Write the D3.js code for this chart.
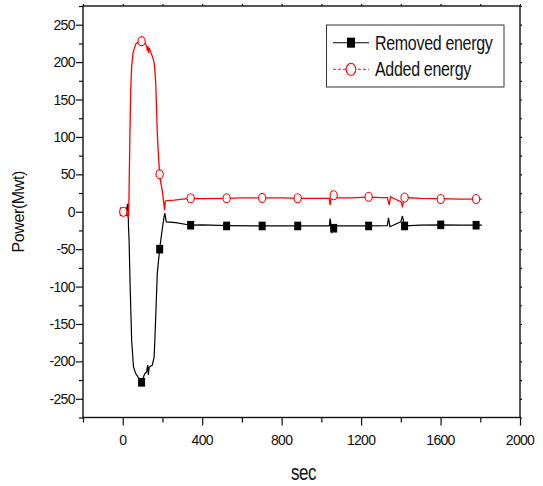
<!DOCTYPE html>
<html>
<head>
<meta charset="utf-8">
<script src="https://cdn.jsdelivr.net/npm/d3@7"></script>
<style>
  body { margin: 0; background: #fff; }
  text { font-family: "Liberation Sans", Arial, sans-serif; fill: #111; }
</style>
</head>
<body>
<div id="wrapper"></div>
<script>

// 1. Data
const seriesNames = ["Removed energy", "Added energy"]

const removedTime  = [0, 20, 24, 27, 29, 32, 37, 45, 54, 65, 82, 95, 110, 120, 126, 129, 133, 149, 158, 162, 166, 174, 186, 196, 208, 212, 219, 267, 342, 400, 523, 702, 881, 1040, 1044, 1054, 1062, 1075, 1238, 1332, 1338, 1345, 1370, 1400, 1408, 1419, 1500, 1601, 1700, 1779, 1808]
const removedPower = [0, 0, 10, 10, -20, -38, -96, -172, -207, -216, -223, -228, -217, -214, -205, -218, -208, -205, -194, -170, -141, -82, -50, -29, -7, -2, -13.5, -14.5, -18, -17.5, -18.5, -19, -19, -19, -9, -27, -22, -19, -19, -18.5, -8, -20, -17, -13.5, -5.7, -19, -18, -17.5, -18, -18, -18]

const addedTime  = [0, 20, 28, 30, 32, 36, 40, 45, 52, 65, 80, 95, 110, 120, 124, 127, 130, 133, 140, 150, 158, 163, 166, 170, 174, 180, 186, 192, 199, 205, 211, 214, 220, 260, 300, 342, 400, 523, 600, 702, 800, 881, 950, 1040, 1044, 1054, 1062, 1070, 1150, 1238, 1300, 1332, 1342, 1348, 1370, 1400, 1408, 1419, 1500, 1601, 1700, 1779, 1808]
const addedPower = [0, 0, -8, -5, 30, 100, 160, 195, 212, 224, 227, 229, 226, 222, 215, 221, 212, 219, 214, 207, 200, 185, 172, 140, 105, 75, 50, 38, 29, 15, 2, 14, 15, 15.5, 17, 18, 17.5, 18, 18.5, 18.5, 18.5, 18, 18, 18, 9, 27, 22, 18.5, 18.5, 19.5, 19, 19, 9, 20, 17, 13.5, 7.5, 19, 18, 17.5, 17, 17, 17]

const markerTime    = [3, 95, 186, 342, 523, 702, 881, 1062, 1238, 1419, 1601, 1779]
const removedMarker = [0, -228, -50, -18, -19, -19, -19, -22, -19, -19, -17.5, -18]
const addedMarker   = [0, 228, 50, 18, 18, 18.5, 18, 22, 20, 19, 17, 17]

const xMajorTicks = [0, 400, 800, 1200, 1600, 2000]
const xMinorTicks = [-200, 200, 600, 1000, 1400, 1800]
const yMajorTicks = [-250, -200, -150, -100, -50, 0, 50, 100, 150, 200, 250]
const yMinorTicks = [-275, -225, -175, -125, -75, -25, 25, 75, 125, 175, 225, 275]

// 2. Dimensions
let dimensions = {
  width: 543,
  height: 486,
  margin: { top: 6, right: 23, bottom: 68.5, left: 83 },
}
dimensions.boundedWidth = dimensions.width - dimensions.margin.left - dimensions.margin.right
dimensions.boundedHeight = dimensions.height - dimensions.margin.top - dimensions.margin.bottom

const wrapper = d3.select("#wrapper")
  .append("svg")
  .attr("width", dimensions.width)
  .attr("height", dimensions.height)

const bounds = wrapper.append("g")
  .attr("transform", `translate(${dimensions.margin.left},${dimensions.margin.top})`)

// 3. Scales
const xScale = d3.scaleLinear().domain([-200, 2000]).range([0, dimensions.boundedWidth])
const yScale = d3.scaleLinear().domain([-275, 275]).range([dimensions.boundedHeight, 0])

// 4. Axes
function styleAxis(g) {
  g.select(".domain").remove()
  g.selectAll(".tick line").attr("stroke", "#111").attr("stroke-width", 1.2)
}

bounds.append("g").attr("transform", `translate(0,${dimensions.boundedHeight})`)
  .call(d3.axisBottom(xScale).tickValues(xMajorTicks).tickSize(8).tickFormat("")).call(styleAxis)
bounds.append("g").attr("transform", `translate(0,${dimensions.boundedHeight})`)
  .call(d3.axisBottom(xScale).tickValues(xMinorTicks).tickSize(5).tickFormat("")).call(styleAxis)
bounds.append("g")
  .call(d3.axisLeft(yScale).tickValues(yMajorTicks).tickSize(7).tickFormat("")).call(styleAxis)
bounds.append("g")
  .call(d3.axisLeft(yScale).tickValues(yMinorTicks).tickSize(4).tickFormat("")).call(styleAxis)
// mirrored ticks on top and right
bounds.append("g")
  .call(d3.axisTop(xScale).tickValues(xMajorTicks.concat(xMinorTicks)).tickSize(2).tickFormat("")).call(styleAxis)
bounds.append("g").attr("transform", `translate(${dimensions.boundedWidth},0)`)
  .call(d3.axisRight(yScale).tickValues(yMajorTicks.concat(yMinorTicks)).tickSize(2).tickFormat("")).call(styleAxis)

// frame
bounds.append("rect")
  .attr("width", dimensions.boundedWidth)
  .attr("height", dimensions.boundedHeight)
  .attr("fill", "none")
  .attr("stroke", "#111")
  .attr("stroke-width", 1.4)

// tick labels
bounds.append("g").selectAll("text")
  .data(xMajorTicks)
  .join("text")
  .attr("x", d => xScale(d))
  .attr("y", dimensions.boundedHeight + 27.5)
  .attr("text-anchor", "middle")
  .style("font-size", "14px")
  .style("letter-spacing", "-0.7px")
  .text(d => d)

bounds.append("g").selectAll("text")
  .data(yMajorTicks)
  .join("text")
  .attr("x", -8)
  .attr("y", d => yScale(d) + 5)
  .attr("text-anchor", "end")
  .style("font-size", "14px")
  .style("letter-spacing", "-0.6px")
  .text(d => d)

// axis titles
wrapper.append("text")
  .attr("transform", `translate(${dimensions.margin.left + dimensions.boundedWidth / 2 + 2},480) scale(1,1.25)`)
  .attr("text-anchor", "middle")
  .style("font-size", "17px")
  .style("letter-spacing", "-0.4px")
  .text("sec")

wrapper.append("text")
  .attr("transform", `translate(24,${dimensions.margin.top + dimensions.boundedHeight / 2}) rotate(-90)`)
  .attr("text-anchor", "middle")
  .style("font-size", "16px")
  .style("letter-spacing", "-0.4px")
  .text("Power(Mwt)")

// 5. Lines
const lineGenerator = d3.line()
  .x(d => xScale(d[0]))
  .y(d => yScale(d[1]))

const removedData = removedTime.map((t, i) => [t, removedPower[i]])
const addedData = addedTime.map((t, i) => [t, addedPower[i]])

bounds.append("path")
  .datum(removedData)
  .attr("d", lineGenerator)
  .attr("fill", "none")
  .attr("stroke", "#000")
  .attr("stroke-width", 1.2)

bounds.append("path")
  .datum(addedData)
  .attr("d", lineGenerator)
  .attr("fill", "none")
  .attr("stroke", "#ff0000")
  .attr("stroke-width", 1.3)

// markers
bounds.append("g").selectAll("rect")
  .data(markerTime.map((t, i) => [t, removedMarker[i]]))
  .join("rect")
  .attr("x", d => xScale(d[0]) - 3.5)
  .attr("y", d => yScale(d[1]) - 4.3)
  .attr("width", 7)
  .attr("height", 8.6)
  .attr("fill", "#000")

bounds.append("g").selectAll("ellipse")
  .data(markerTime.map((t, i) => [t, addedMarker[i]]))
  .join("ellipse")
  .attr("cx", d => xScale(d[0]))
  .attr("cy", d => yScale(d[1]))
  .attr("rx", 3.6)
  .attr("ry", 4.5)
  .attr("fill", "#fff")
  .attr("stroke", "#ff0000")
  .attr("stroke-width", 1.1)

// 6. Legend
const legend = wrapper.append("g")
legend.append("rect")
  .attr("x", 326.5)
  .attr("y", 25)
  .attr("width", 177.5)
  .attr("height", 62)
  .attr("fill", "#fff")
  .attr("stroke", "#333")
  .attr("stroke-width", 1)

const legendRows = legend.selectAll("g")
  .data(seriesNames)
  .join("g")
  .attr("transform", (d, i) => `translate(0,${42.7 + i * 26.6})`)

legendRows.append("line")
  .attr("x1", 333).attr("x2", 369)
  .attr("stroke", (d, i) => i == 0 ? "#000" : "#ff0000")
  .attr("stroke-width", 1.1)
  .attr("stroke-dasharray", (d, i) => i == 0 ? null : "3,2")

legendRows.filter((d, i) => i == 0).append("rect")
  .attr("x", 347).attr("y", -5).attr("width", 8).attr("height", 10)
  .attr("fill", "#000")

legendRows.filter((d, i) => i == 1).append("ellipse")
  .attr("cx", 351).attr("cy", 0).attr("rx", 4.8).attr("ry", 6)
  .attr("fill", "#fff").attr("stroke", "#ff0000").attr("stroke-width", 1.1)

legendRows.append("text")
  .attr("transform", "translate(375,7) scale(1,1.22)")
  .style("font-size", "16px")
  .style("letter-spacing", "-0.3px")
  .text(d => d)

</script>
</body>
</html>
